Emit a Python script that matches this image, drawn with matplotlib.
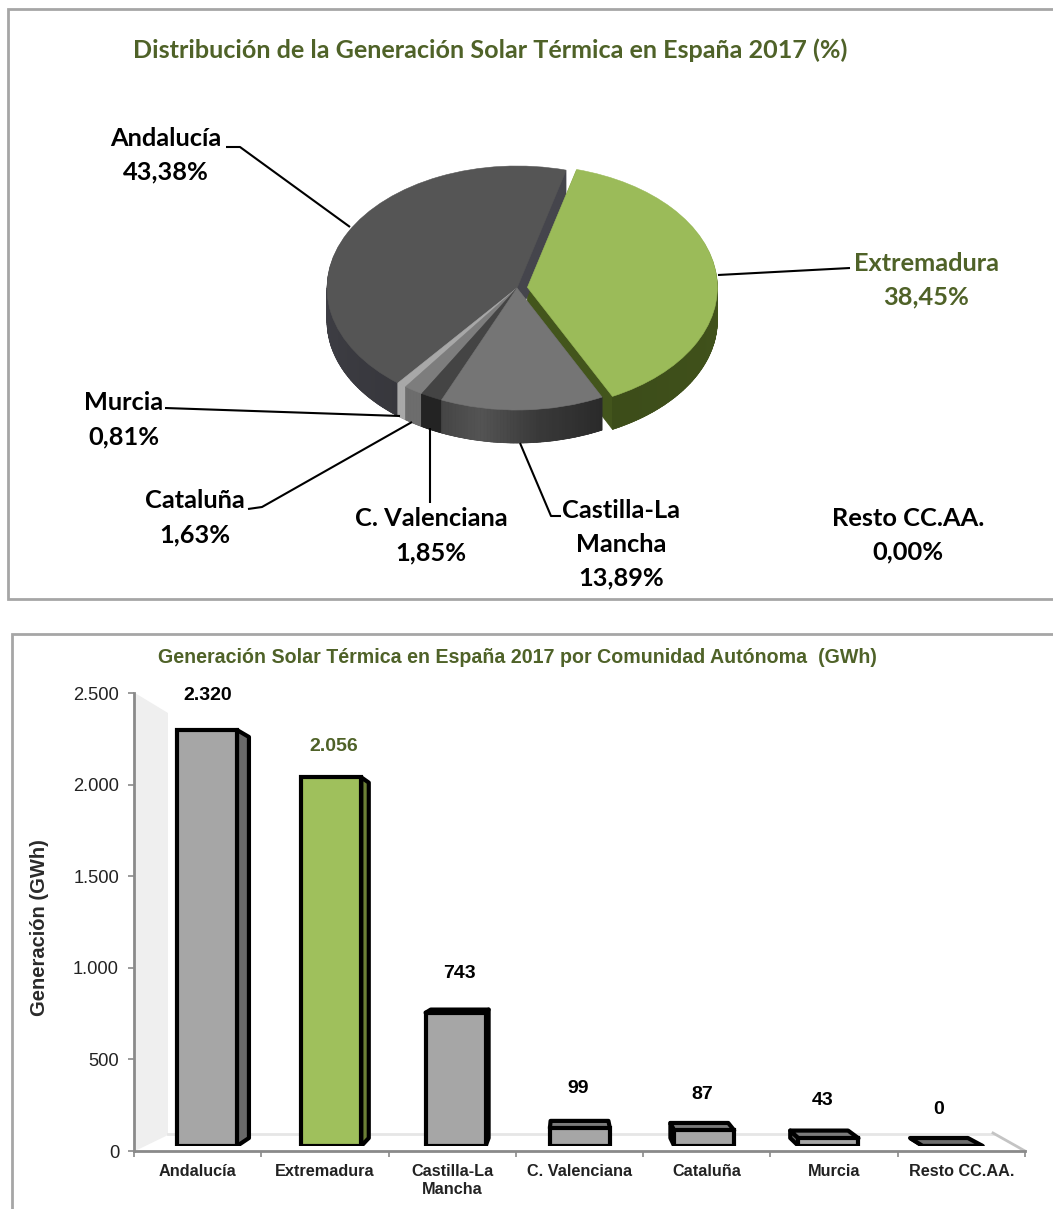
import numpy as np
import matplotlib
matplotlib.use("Agg")
import matplotlib.pyplot as plt
from matplotlib.patches import Polygon, Rectangle
from matplotlib.transforms import IdentityTransform

# ---------- data ----------
regions_pie = ["Andalucía", "Murcia", "Cataluña", "C. Valenciana", "Castilla-La Mancha", "Extremadura", "Resto CC.AA."]
shares = [43.38, 0.81, 1.63, 1.85, 13.89, 38.45, 0.00]
explode_flags = [0, 0, 0, 0, 0, 0.055, 0]
top_colors = ["#555555", "#a8a8a8", "#7d7d7d", "#444444", "#757575", "#9bbb59", "#cccccc"]
wall_colors = ["#45454c", "#9a9a9a", "#686868", "#232323", "#3c3c3c", "#43551c", "#999999"]

categories = ["Andalucía", "Extremadura", "Castilla-La\nMancha", "C. Valenciana", "Cataluña", "Murcia", "Resto CC.AA."]
generation = [2320, 2056, 743, 99, 87, 43, 0]
yticks = [0, 500, 1000, 1500, 2000, 2500]
ytick_labels = ["0", "500", "1.000", "1.500", "2.000", "2.500"]
front_colors = ["#a6a6a6", "#9fc05c", "#a6a6a6", "#a6a6a6", "#a6a6a6", "#a6a6a6", "#a6a6a6"]
side_colors = ["#6a6a6a", "#6b7f35", "#333333", "#6a6a6a", "#555555", "#6a6a6a", "#6a6a6a"]
top_face_colors = ["#7a7a7a", "#7a7a7a", "#333333", "#7a7a7a", "#7a7a7a", "#7a7a7a", "#6e6e6e"]
bar_label_colors = ["black", "#4f6228", "black", "black", "black", "black", "black"]

W, H = 1053, 1209
GREEN = "#4f6228"
CAL = "Lato"
ARIAL = "Liberation Sans"

fig = plt.figure(figsize=(W / 100, H / 100), dpi=100, facecolor="white")


def rect(x0, y0, x1, y1):
    return [x0 / W, 1 - y1 / H, (x1 - x0) / W, (y1 - y0) / H]


# ---------- background frames + wall ----------
bg = fig.add_axes([0, 0, 1, 1], zorder=0)
bg.set_xlim(0, W)
bg.set_ylim(H, 0)
bg.axis("off")
bg.add_patch(Rectangle((7.5, 8.5), 1060, 590.5, fc="white", ec="#a6a6a6", lw=2))
bg.add_patch(Rectangle((11.5, 633.5), 1060, 600, fc="white", ec="#a6a6a6", lw=2))
bg.add_patch(Polygon([(135, 693), (168, 713), (168, 1135), (135, 1151)], fc="#efefef", ec="none"))
bg.plot([168, 993], [1134, 1134], color="#e6e6e6", lw=2)
bg.plot([993, 1025], [1133, 1151], color="#c4c4c4", lw=2)

# ---------- pie ----------
cx, cy, rx, ry = 517, 288, 190, 122
depth = 33
pa = fig.add_axes(rect(300, 140, 750, 470), zorder=1)


def pie_layer(offset_px, colors):
    wedges, _ = pa.pie(shares, explode=explode_flags, startangle=75, counterclock=True,
                       colors=colors, center=(0, -offset_px / ry), radius=1,
                       wedgeprops=dict(linewidth=0.4))
    for w, share in zip(wedges, shares):
        w.set_edgecolor(w.get_facecolor())
        if share == 0:
            w.set_visible(False)
    return wedges


GI = regions_pie.index("Extremadura")
for k in range(depth, 0, -1):
    for i, w in enumerate(pie_layer(k, wall_colors)):
        w.set_zorder(1 if i == GI else 2)

shade_profile = {
    0: ([0, 0.35, 1], [1.35, 1.0, 0.8]),
    1: ([0, 1], [1.1, 1.1]),
    2: ([0, 1], [1.05, 1.05]),
    3: ([0, 1], [1.0, 1.0]),
    4: ([0, 0.25, 0.6, 1], [1.15, 1.4, 0.95, 0.7]),
    5: ([0, 1], [0.9, 1.05]),
}
tops = pie_layer(0, top_colors)
for i, w in enumerate(tops):
    w.set_zorder(5 if i == GI else 4)
    if i not in shade_profile or w.theta2 - w.theta1 < 1e-6:
        continue
    a0, a1 = w.theta1, w.theta2
    span = np.arange(np.floor(a0), np.ceil(a1) + 1)
    span = np.clip(span, a0, a1)
    wcx, wcy = w.center
    base = np.array(matplotlib.colors.to_rgb(wall_colors[i]))
    for t0, t1 in zip(span[:-1], span[1:]):
        mid = (t0 + t1) / 2
        if np.sin(np.radians(mid)) >= 0:
            continue
        f = np.interp((mid - a0) / (a1 - a0), *shade_profile[i])
        c = np.clip(base * f, 0, 1)
        th = np.radians([t0, t1])
        x = wcx + np.cos(th)
        y = wcy + np.sin(th)
        d = depth / ry
        pa.add_patch(Polygon([(x[0], y[0]), (x[1], y[1]), (x[1], y[1] - d), (x[0], y[0] - d)],
                             fc=c, ec=c, lw=0.5, zorder=1.5 if i == GI else 3))

pa.set_aspect("auto")
pa.set_xlim((300 - cx) / rx, (750 - cx) / rx)
pa.set_ylim((cy - 470) / ry, (cy - 140) / ry)
pa.patch.set_visible(False)

# ---------- bars: axis (back plane) ----------
ax = fig.add_axes(rect(134, 693, 1025, 1151), zorder=1)
ax.patch.set_visible(False)
ax.set_xlim(0, len(categories))
ax.set_ylim(0, 2500)
for s in ("top", "right"):
    ax.spines[s].set_visible(False)
for s in ("left", "bottom"):
    ax.spines[s].set_color("#8a8a8a")
    ax.spines[s].set_linewidth(2)
ax.set_yticks(yticks)
ax.set_yticklabels(ytick_labels, fontfamily=ARIAL, fontsize=13.2, color="#222222")
ax.set_xticks(range(len(categories) + 1))
ax.set_xticklabels([])
ax.set_xticks(np.arange(len(categories)) + 0.5, minor=True)
ax.set_xticklabels(categories, minor=True, fontfamily=ARIAL, fontsize=11.7, fontweight="bold",
                   color="#222222", linespacing=1.25)
ax.tick_params(axis="y", length=4.3, width=1.2, color="#8a8a8a", pad=6.5)
ax.tick_params(axis="x", which="major", length=4.3, width=1.2, color="#8a8a8a")
ax.tick_params(axis="x", which="minor", length=0, pad=9.5)
ax.set_ylabel("Generación (GWh)", fontfamily=ARIAL, fontsize=14.5, fontweight="bold", color="#2a2a2a")
ax.yaxis.set_label_coords((40 - 134) / (1025 - 134), (1151 - 928) / (1151 - 693))
ax.yaxis.label.set_va("center")

# ---------- bars: front plane ----------
base_px, px_per_unit = 1146, 416 / 2320
slot_x0, slot_step = 207, 124.3
fa = fig.add_axes(rect(134, 693, 1025, base_px), zorder=2)
fa.axis("off")
fa.set_xlim((134 - slot_x0) / slot_step, (1025 - slot_x0) / slot_step)
fa.set_ylim(0, (base_px - 693) / px_per_unit)
bar_w = 60 / slot_step
xs = np.arange(len(generation))
fa.bar(xs, generation, width=bar_w, color=front_colors, edgecolor="black", linewidth=3, zorder=5)

vx, vy, s = 569, H - 924, 0.964


def back(p):
    return (vx + s * (p[0] - vx), vy + s * (p[1] - vy))


for x, v, sc, tc in zip(xs, generation, side_colors, top_face_colors):
    corners = fa.transData.transform([(x - bar_w / 2, 0), (x + bar_w / 2, 0),
                                      (x + bar_w / 2, v), (x - bar_w / 2, v)])
    bl, br, tr, tl = [tuple(c) for c in corners]
    kw = dict(transform=IdentityTransform(), edgecolor="black", linewidth=3, joinstyle="round", zorder=3)
    if br[0] < vx:
        fa.add_patch(Polygon([br, tr, back(tr), back(br)], facecolor=sc, **kw))
    if bl[0] > vx:
        fa.add_patch(Polygon([bl, tl, back(tl), back(bl)], facecolor=sc, **kw))
    if tl[1] < vy:
        fa.add_patch(Polygon([tl, tr, back(tr), back(tl)], facecolor=tc, **kw))

# ---------- overlay: text and leaders ----------
ov = fig.add_axes([0, 0, 1, 1], zorder=3)
ov.set_xlim(0, W)
ov.set_ylim(H, 0)
ov.axis("off")
ov.patch.set_visible(False)


def t(x, y, s_, family=CAL, size=18.3, color="black", weight="bold", **kw):
    ov.text(x, y + 1.5, s_, family=family, fontsize=size, color=color, fontweight=weight,
            ha="center", va="center", **kw)


t(490, 49, "Distribución de la Generación Solar Térmica en España 2017 (%)", size=18.1, color=GREEN)
t(517.5, 656, "Generación Solar Térmica en España 2017 por Comunidad Autónoma  (GWh)",
  family=ARIAL, size=14.1, color=GREEN)

pie_txt = {
    "Andalucía": (166, 137, 170),
    "Extremadura": (926, 262, 295),
    "Murcia": (124, 401, 435),
    "Cataluña": (195, 499, 533),
    "C. Valenciana": (431, 517, 551),
    "Resto CC.AA.": (908, 517, 550),
}
for name, val in zip(regions_pie, shares):
    pct = f"{val:.2f}".replace(".", ",") + "%"
    col = GREEN if name == "Extremadura" else "black"
    if name in pie_txt:
        x, y1, y2 = pie_txt[name]
        t(x, y1, name, color=col)
        t(x, y2, pct, color=col)
    else:
        t(621, 509, "Castilla-La")
        t(621, 543, "Mancha")
        t(621, 576, pct)

leaders = [
    ([226, 240, 350], [147, 147, 227]),
    ([718, 850], [275, 268]),
    ([165, 400], [408, 416]),
    ([248, 262, 412], [509, 507, 422]),
    ([430, 430], [428, 503]),
    ([520, 551, 561], [443, 516, 516]),
]
for xl, yl in leaders:
    ov.plot(xl, yl, color="black", lw=1.5, solid_capstyle="butt", zorder=6)

lab_pos = [(208, 694), (334, 745), (459, 972), (578, 1087), (702, 1093), (823, 1099), (939, 1108)]
for (x, y), v, c in zip(lab_pos, generation, bar_label_colors):
    t(x, y, f"{v:,}".replace(",", "."), family=ARIAL, size=14, color=c)

fig.savefig("out.png", dpi=100, facecolor="white")
